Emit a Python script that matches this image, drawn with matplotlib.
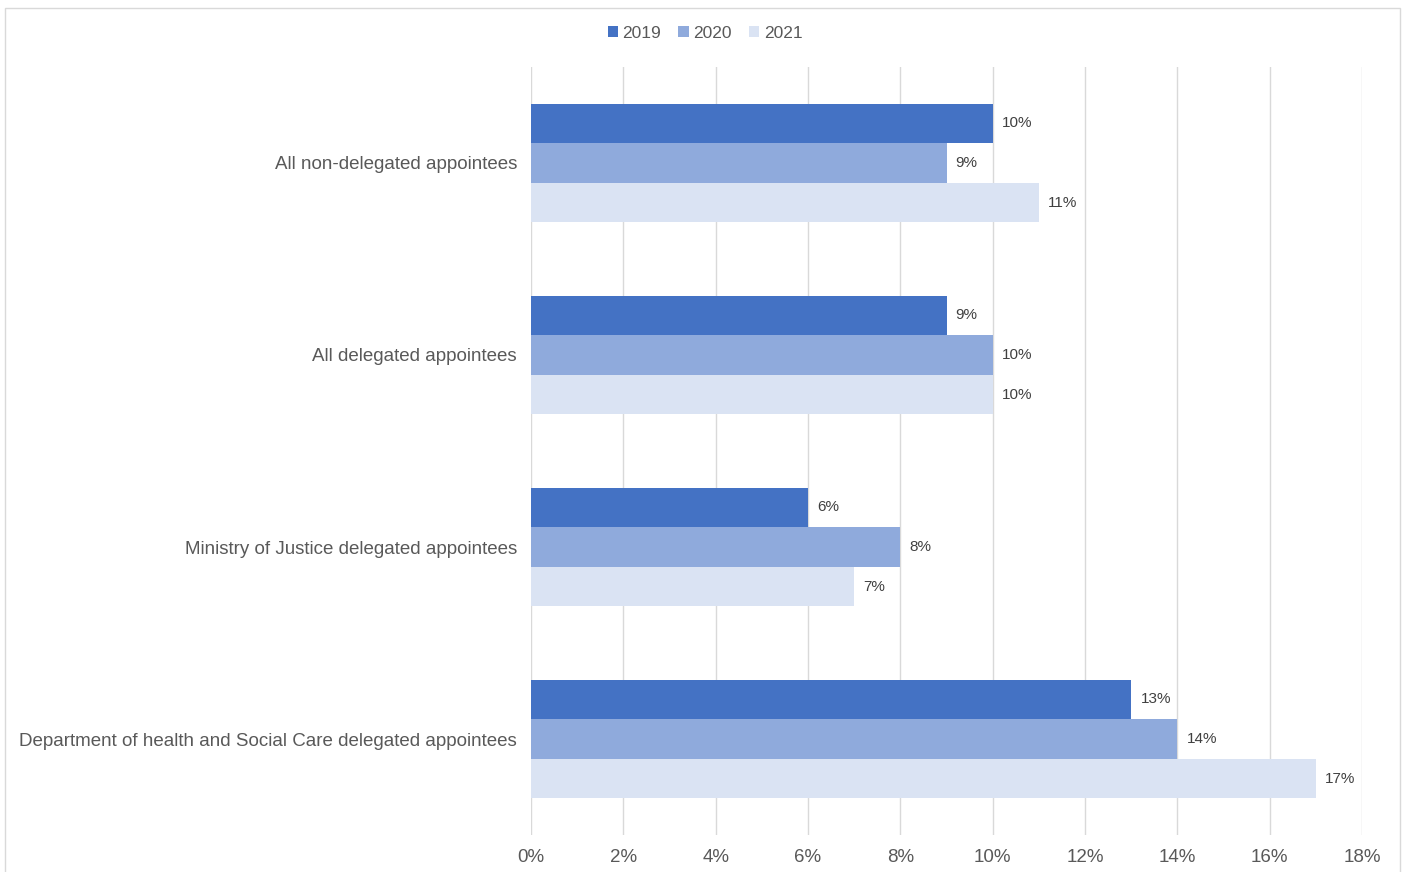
import matplotlib.pyplot as plt
import numpy as np
from matplotlib.patches import Rectangle

plt.rcParams['font.family'] = ['Liberation Sans', 'DejaVu Sans']

categories = ["All non-delegated appointees",
              "All delegated appointees",
              "Ministry of Justice delegated appointees",
              "Department of health and Social Care delegated appointees"]
years = ["2019", "2020", "2021"]
v2019 = [10, 9, 6, 13]
v2020 = [9, 10, 8, 14]
v2021 = [11, 10, 7, 17]
colors = ["#4472C4", "#8FAADC", "#DAE3F3"]
text_col = "#595959"

fig = plt.figure(figsize=(14.07, 8.72), dpi=100)
# outer chart border (bottom edge runs off the image)
fig.patches.append(Rectangle((5 / 1407, -10 / 872), 1395 / 1407, 874 / 872,
                             transform=fig.transFigure, fill=False,
                             edgecolor="#D9D9D9", linewidth=1))
ax = fig.add_axes([531 / 1407, 1 - 835 / 872, 831 / 1407, 768 / 872])

y = np.arange(len(categories))
h = 0.206
for i, (vals, lab) in enumerate(zip([v2019, v2020, v2021], years)):
    pos = y + (i - 1) * h
    bars = ax.barh(pos, vals, height=h, color=colors[i], label=lab, zorder=2)
    for b, v in zip(bars, vals):
        ax.text(v + 0.2, b.get_y() + b.get_height() / 2, f"{v}%",
                va="center", ha="left", fontsize=11, color="#404040")

ax.set_xlim(0, 18)
ax.set_ylim(len(categories) - 0.5, -0.5)
ax.set_xticks(np.arange(0, 19, 2))
ax.set_xticklabels([f"{t}%" for t in range(0, 19, 2)])
ax.set_yticks(y)
ax.set_yticklabels(categories)
ax.tick_params(axis="both", length=0, labelsize=13.5, colors=text_col)
ax.tick_params(axis="x", pad=10)
ax.tick_params(axis="y", pad=10)
ax.grid(axis="x", color="#D9D9D9", linewidth=1, zorder=0)
for s in ax.spines.values():
    s.set_visible(False)

leg = fig.legend(loc="center", bbox_to_anchor=(705 / 1407, 1 - 33 / 872),
                 ncol=3, frameon=False, fontsize=12.5, handlelength=0.6,
                 handleheight=0.6, handletextpad=0.25, columnspacing=1.0)
for t in leg.get_texts():
    t.set_color(text_col)

fig.savefig("out.png", dpi=100)
